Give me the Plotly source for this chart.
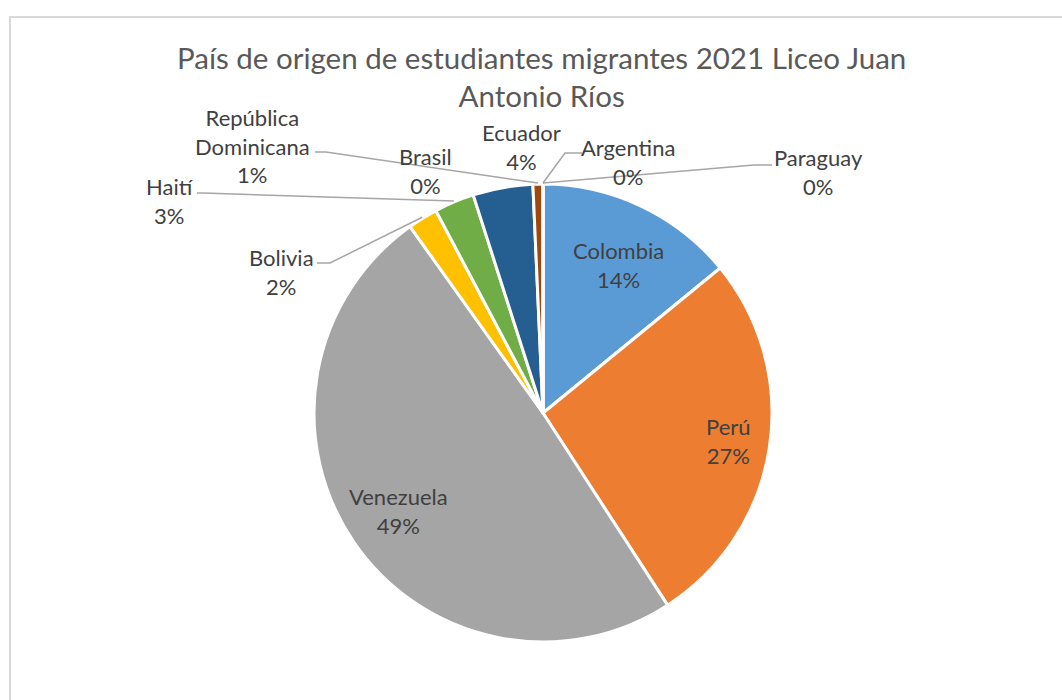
import math
import plotly.graph_objects as go

# ---- data ----
countries = ["Colombia", "Perú", "Venezuela", "Bolivia", "Brasil", "Haití",
             "Ecuador", "República Dominicana", "Argentina", "Paraguay"]
students = [20, 38, 70, 3, 0, 4, 6, 1, 0, 0]
colors = ["#5B9BD5", "#ED7D31", "#A5A5A5", "#FFC000", "#4472C4", "#70AD47",
          "#255E91", "#9E480E", "#636363", "#997300"]
title_text = "País de origen de estudiantes migrantes 2021 Liceo Juan<br>Antonio Ríos"
display_names = {"República Dominicana": "República<br>Dominicana"}

# ---- layout (pixel geometry) ----
W, H = 1062, 700
CX, CY, R = 543, 413, 229
FONT = "Lato"
LABEL_COLOR = "#404040"

# label centre positions (px) and optional leader line: (start, elbow)
label_pos = {
    "Colombia": (618, 265, None),
    "Perú": (728, 441, None),
    "Venezuela": (398, 511, None),
    "Bolivia": (281, 272, ((317, 263), (330, 263))),
    "Brasil": (425, 171, None),
    "Haití": (170, 201, ((197, 193), (203, 193))),
    "Ecuador": (521, 147, None),
    "República Dominicana": (252, 146, ((315, 152), (326, 152))),
    "Argentina": (628, 162, ((582, 153), (565, 153))),
    "Paraguay": (818, 172, ((772, 165), (754, 165))),
}


def px(x):
    return x / W


def py(y):
    return 1 - y / H


total = sum(students)

fig = go.Figure(go.Pie(
    labels=countries,
    values=students,
    sort=False,
    direction="clockwise",
    rotation=0,
    marker=dict(colors=colors, line=dict(color="white", width=3)),
    textinfo="none",
    hoverinfo="label+percent",
    showlegend=False,
    domain=dict(x=[px(CX - R), px(CX + R)], y=[py(CY + R), py(CY - R)]),
))

annotations = []
shapes = []
cum = 0
for name, v in zip(countries, students):
    mid = (cum + v / 2) / total
    cum += v
    lx, ly, leader = label_pos[name]
    pct = round(100 * v / total)
    text = f"{display_names.get(name, name)}<br>{pct}%"
    annotations.append(dict(
        x=px(lx), y=py(ly), xref="paper", yref="paper", text=text,
        showarrow=False, xanchor="center", yanchor="middle",
        font=dict(family=FONT, size=22, color=LABEL_COLOR), align="center",
    ))
    if leader:
        ex = CX + (R + 1) * math.sin(2 * math.pi * mid)
        ey = CY - (R + 1) * math.cos(2 * math.pi * mid)
        (sx, sy), (bx, by) = leader
        path = f"M {px(sx)},{py(sy)} L {px(bx)},{py(by)} L {px(ex)},{py(ey)}"
        shapes.append(dict(type="path", path=path, xref="paper", yref="paper",
                           line=dict(color="#A6A6A6", width=1.5)))

annotations.append(dict(
    x=px(541), y=py(77), xref="paper", yref="paper", text=title_text,
    showarrow=False, xanchor="center", yanchor="middle",
    font=dict(family=FONT, size=29.5, color="#595959"), align="center",
))

shapes.append(dict(type="rect", xref="paper", yref="paper",
                   x0=px(10), y0=py(17), x1=1.05, y1=-0.05,
                   line=dict(color="#D9D9D9", width=2), fillcolor="rgba(0,0,0,0)"))

fig.update_layout(
    width=W, height=H,
    margin=dict(l=0, r=0, t=0, b=0),
    paper_bgcolor="white",
    plot_bgcolor="white",
    annotations=annotations,
    shapes=shapes,
)

fig.write_html("out.html",
               config={"displayModeBar": False},
               post_script="document.body.style.margin='0';document.body.style.overflow='hidden';")
